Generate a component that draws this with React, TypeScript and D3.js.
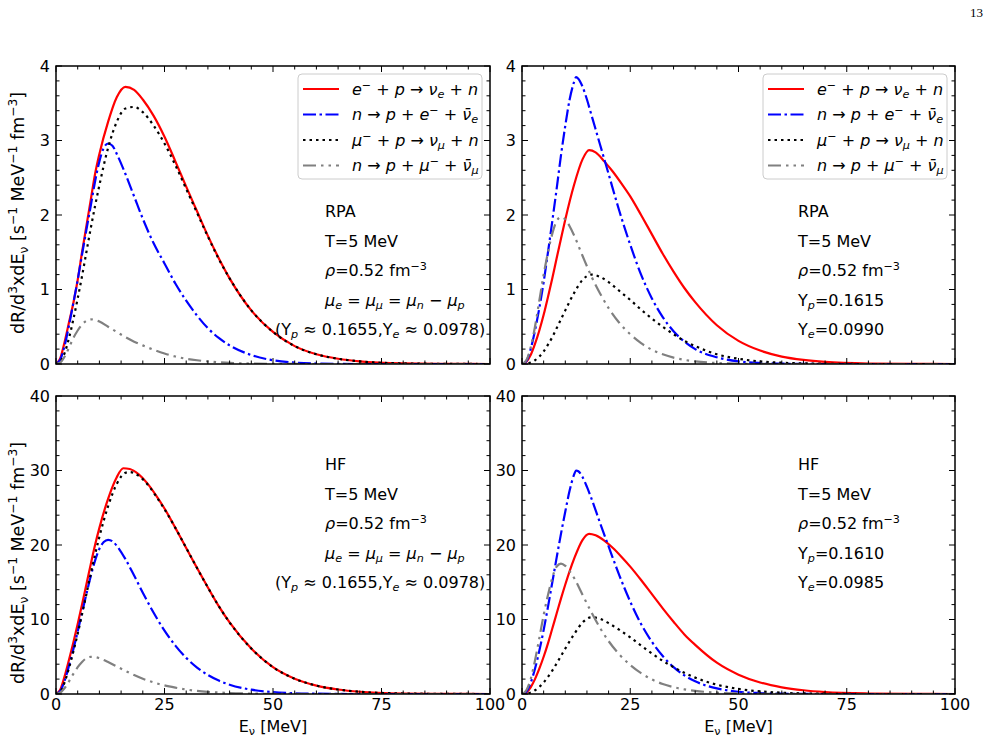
import React from 'react';
import * as d3 from 'd3';

type Pt = [number, number];
type Seg = { t: string; i?: boolean; sup?: boolean; sub?: boolean };

// tick labels
const xTicks = [0, 25, 50, 75, 100];
const yTicksRpa = [0, 1, 2, 3, 4];
const yTicksHf = [0, 10, 20, 30, 40];

// RPA, mu_e = mu_mu (top left)
const rpaEqECap: Pt[] = [[0,0],[1,0.08],[2,0.3],[3,0.56],[4,0.82],[5,1.13],[6,1.5],[7,1.85],[8,2.2],[9,2.55],[10,2.82],[12,3.25],[14,3.58],[16,3.72],[18,3.68],[20,3.55],[22.5,3.33],[25,3.05],[27.5,2.72],[30,2.38],[32.5,2.05],[35,1.72],[37.5,1.42],[40,1.15],[45,0.72],[50,0.43],[55,0.24],[60,0.13],[65,0.07],[70,0.035],[80,0.008],[90,0.002],[100,0]];
const rpaEqEDec: Pt[] = [[0,0],[1,0.06],[2,0.25],[3,0.52],[4,0.82],[5,1.13],[6,1.47],[7,1.8],[8,2.12],[9,2.45],[10,2.72],[11,2.9],[12,2.96],[13,2.93],[14,2.82],[16,2.55],[18,2.25],[20,1.95],[22.5,1.62],[25,1.35],[27.5,1.08],[30,0.85],[32.5,0.65],[35,0.48],[37.5,0.35],[40,0.25],[45,0.12],[50,0.05],[55,0.02],[60,0.007],[70,0],[100,0]];
const rpaEqMuCap: Pt[] = [[0,0],[1,0.03],[2,0.15],[3,0.35],[4,0.6],[5,0.88],[6,1.18],[7,1.5],[8,1.82],[9,2.12],[10,2.4],[12,2.9],[14,3.25],[16,3.43],[18,3.45],[20,3.38],[22.5,3.2],[25,2.96],[27.5,2.67],[30,2.35],[32.5,2.03],[35,1.71],[37.5,1.41],[40,1.15],[45,0.72],[50,0.43],[55,0.24],[60,0.13],[65,0.07],[70,0.035],[80,0.008],[90,0.002],[100,0]];
const rpaEqMuDec: Pt[] = [[0,0],[1,0.02],[2,0.1],[3,0.22],[4,0.35],[5,0.45],[6,0.53],[7,0.58],[8,0.6],[9,0.59],[10,0.57],[12,0.5],[14,0.43],[16,0.36],[18,0.3],[20,0.25],[22.5,0.19],[25,0.14],[27.5,0.1],[30,0.07],[32.5,0.05],[35,0.035],[40,0.015],[45,0.006],[50,0.002],[60,0],[100,0]];

// RPA, Yp=0.1615 (top right)
const rpaECap: Pt[] = [[0,0],[1,0.03],[2,0.12],[3,0.27],[4,0.45],[5,0.66],[6,0.9],[7,1.15],[8,1.42],[9,1.68],[10,1.94],[12,2.4],[14,2.75],[15.5,2.87],[17,2.84],[19,2.72],[21,2.58],[23,2.42],[25,2.25],[27.5,2.0],[30,1.74],[32.5,1.48],[35,1.24],[37.5,1.02],[40,0.83],[45,0.52],[50,0.31],[55,0.18],[60,0.1],[65,0.055],[70,0.028],[80,0.007],[90,0.002],[100,0]];
const rpaEDec: Pt[] = [[0,0],[1,0.04],[2,0.2],[3,0.45],[4,0.75],[5,1.1],[6,1.5],[7,1.92],[8,2.35],[9,2.8],[10,3.2],[11,3.55],[12,3.78],[12.5,3.85],[13,3.83],[14,3.72],[15,3.55],[16,3.35],[18,2.95],[20,2.55],[22.5,2.05],[25,1.6],[27.5,1.2],[30,0.88],[32.5,0.63],[35,0.44],[37.5,0.3],[40,0.2],[45,0.09],[50,0.035],[55,0.013],[60,0.005],[70,0],[100,0]];
const rpaMuCap: Pt[] = [[0,0],[1,0.005],[2,0.02],[3,0.05],[4,0.1],[5,0.17],[6,0.26],[7,0.36],[8,0.48],[9,0.6],[10,0.72],[12,0.95],[14,1.13],[15,1.18],[16,1.2],[18,1.17],[20,1.1],[22.5,0.98],[25,0.86],[27.5,0.73],[30,0.61],[32.5,0.5],[35,0.4],[37.5,0.31],[40,0.24],[45,0.13],[50,0.07],[55,0.035],[60,0.017],[70,0.004],[80,0],[100,0]];
const rpaMuDec: Pt[] = [[0,0],[1,0.05],[2,0.22],[3,0.5],[4,0.85],[5,1.2],[6,1.5],[7,1.75],[8,1.92],[9,1.97],[10,1.94],[11,1.85],[12,1.73],[14,1.45],[16,1.18],[18,0.95],[20,0.75],[22.5,0.55],[25,0.4],[27.5,0.28],[30,0.19],[32.5,0.13],[35,0.085],[37.5,0.055],[40,0.035],[45,0.013],[50,0.005],[60,0],[100,0]];

// HF, mu_e = mu_mu (bottom left)
const hfEqECap: Pt[] = [[0,0],[1,0.6],[2,2.4],[3,4.6],[4,6.9],[5,9.4],[6,12],[7,14.7],[8,17.4],[9,20],[10,22.3],[12,26.2],[14,29.1],[15.5,30.3],[17,30.2],[19,29.5],[21,28.3],[23,26.7],[25,24.9],[27.5,22.3],[30,19.6],[32.5,16.9],[35,14.3],[37.5,11.8],[40,9.6],[45,6.1],[50,3.6],[55,2.05],[60,1.12],[65,0.6],[70,0.3],[80,0.07],[90,0.015],[100,0]];
const hfEqEDec: Pt[] = [[0,0],[1,0.4],[2,1.8],[3,3.8],[4,6],[5,8.4],[6,10.9],[7,13.4],[8,15.8],[9,17.9],[10,19.5],[11,20.4],[12,20.7],[13,20.5],[14,19.9],[16,18.1],[18,15.9],[20,13.6],[22.5,10.9],[25,8.5],[27.5,6.5],[30,4.85],[32.5,3.55],[35,2.55],[37.5,1.8],[40,1.25],[45,0.58],[50,0.25],[55,0.1],[60,0.04],[70,0],[100,0]];
const hfEqMuCap: Pt[] = [[0,0],[1,0.3],[2,1.6],[3,3.5],[4,5.7],[5,8.1],[6,10.7],[7,13.4],[8,16.1],[9,18.7],[10,21.1],[12,25.2],[14,28.2],[16,29.7],[17,29.8],[19,29.3],[21,28.2],[23,26.6],[25,24.8],[27.5,22.3],[30,19.6],[32.5,16.9],[35,14.3],[37.5,11.8],[40,9.6],[45,6.1],[50,3.6],[55,2.05],[60,1.12],[65,0.6],[70,0.3],[80,0.07],[90,0.015],[100,0]];
const hfEqMuDec: Pt[] = [[0,0],[1,0.2],[2,0.8],[3,1.7],[4,2.7],[5,3.6],[6,4.3],[7,4.8],[8,4.98],[9,4.95],[10,4.8],[12,4.3],[14,3.7],[16,3.1],[18,2.55],[20,2.05],[22.5,1.55],[25,1.15],[27.5,0.85],[30,0.6],[32.5,0.42],[35,0.29],[40,0.13],[45,0.055],[50,0.02],[60,0],[100,0]];

// HF, Yp=0.1610 (bottom right)
const hfECap: Pt[] = [[0,0],[1,0.2],[2,0.9],[3,2],[4,3.4],[5,5],[6,6.8],[7,8.8],[8,10.8],[9,12.8],[10,14.7],[12,18.1],[14,20.7],[15.5,21.5],[17,21.3],[19,20.6],[21,19.6],[23,18.4],[25,17.1],[27.5,15.3],[30,13.4],[32.5,11.5],[35,9.7],[37.5,8.0],[40,6.6],[45,4.2],[50,2.6],[55,1.55],[60,0.9],[65,0.5],[70,0.26],[80,0.07],[90,0.017],[100,0]];
const hfEDec: Pt[] = [[0,0],[1,0.3],[2,1.5],[3,3.4],[4,5.8],[5,8.6],[6,11.7],[7,15],[8,18.3],[9,21.5],[10,24.5],[11,27.3],[12,29.4],[12.5,30],[13,29.9],[14,29.1],[15,27.8],[16,26.3],[18,23],[20,19.8],[22.5,15.9],[25,12.4],[27.5,9.4],[30,7.0],[32.5,5.1],[35,3.6],[37.5,2.5],[40,1.7],[45,0.75],[50,0.3],[55,0.12],[60,0.045],[70,0],[100,0]];
const hfMuCap: Pt[] = [[0,0],[1,0.04],[2,0.2],[3,0.5],[4,0.95],[5,1.55],[6,2.3],[7,3.15],[8,4.1],[9,5.1],[10,6.1],[12,8.0],[14,9.6],[15,10.1],[16,10.3],[18,10.1],[20,9.5],[22.5,8.6],[25,7.6],[27.5,6.5],[30,5.45],[32.5,4.45],[35,3.6],[37.5,2.85],[40,2.2],[45,1.25],[50,0.68],[55,0.35],[60,0.18],[70,0.04],[80,0],[100,0]];
const hfMuDec: Pt[] = [[0,0],[1,0.5],[2,2],[3,4.5],[4,7.5],[5,10.6],[6,13.3],[7,15.6],[8,17.1],[9,17.5],[10,17.2],[11,16.5],[12,15.6],[14,13.3],[16,11],[18,8.9],[20,7.1],[22.5,5.3],[25,3.9],[27.5,2.8],[30,1.95],[32.5,1.35],[35,0.92],[37.5,0.62],[40,0.42],[45,0.18],[50,0.07],[60,0.01],[70,0],[100,0]];

const legendLabels: Seg[][] = [
  [{ t: 'e', i: true }, { t: '−', sup: true }, { t: ' + ' }, { t: 'p', i: true }, { t: ' → ' }, { t: 'ν', i: true }, { t: 'e', i: true, sub: true }, { t: ' + ' }, { t: 'n', i: true }],
  [{ t: 'n', i: true }, { t: ' → ' }, { t: 'p', i: true }, { t: ' + ' }, { t: 'e', i: true }, { t: '−', sup: true }, { t: ' + ' }, { t: 'ν\u0304', i: true }, { t: 'e', i: true, sub: true }],
  [{ t: 'μ', i: true }, { t: '−', sup: true }, { t: ' + ' }, { t: 'p', i: true }, { t: ' → ' }, { t: 'ν', i: true }, { t: 'μ', i: true, sub: true }, { t: ' + ' }, { t: 'n', i: true }],
  [{ t: 'n', i: true }, { t: ' → ' }, { t: 'p', i: true }, { t: ' + ' }, { t: 'μ', i: true }, { t: '−', sup: true }, { t: ' + ' }, { t: 'ν\u0304', i: true }, { t: 'μ', i: true, sub: true }],
];

const yLabel: Seg[] = [{ t: 'dR/d' }, { t: '3', sup: true }, { t: 'xdE' }, { t: 'ν', sub: true }, { t: ' [s' }, { t: '−1', sup: true }, { t: ' MeV' }, { t: '−1', sup: true }, { t: ' fm' }, { t: '−3', sup: true }, { t: ']' }];
const xLabel: Seg[] = [{ t: 'E' }, { t: 'ν', sub: true }, { t: ' [MeV]' }];

const rhoLine: Seg[] = [{ t: 'ρ', i: true }, { t: '=0.52 fm' }, { t: '−3', sup: true }];
const tLine: Seg[] = [{ t: 'T=5 MeV' }];
const muLine: Seg[] = [{ t: 'μ', i: true }, { t: 'e', i: true, sub: true }, { t: ' = ' }, { t: 'μ', i: true }, { t: 'μ', i: true, sub: true }, { t: ' = ' }, { t: 'μ', i: true }, { t: 'n', i: true, sub: true }, { t: ' − ' }, { t: 'μ', i: true }, { t: 'p', i: true, sub: true }];
const yEqLine: Seg[] = [{ t: '(Y' }, { t: 'p', i: true, sub: true }, { t: ' ≈ 0.1655,Y' }, { t: 'e', i: true, sub: true }, { t: ' ≈ 0.0978)' }];
const ypRpa: Seg[] = [{ t: 'Y' }, { t: 'p', i: true, sub: true }, { t: '=0.1615' }];
const yeRpa: Seg[] = [{ t: 'Y' }, { t: 'e', i: true, sub: true }, { t: '=0.0990' }];
const ypHf: Seg[] = [{ t: 'Y' }, { t: 'p', i: true, sub: true }, { t: '=0.1610' }];
const yeHf: Seg[] = [{ t: 'Y' }, { t: 'e', i: true, sub: true }, { t: '=0.0985' }];

const styles = [
  { color: '#ff0000', dash: '' },
  { color: '#0000ff', dash: '13,3.5,2.5,3.5' },
  { color: '#000000', dash: '2.5,4' },
  { color: '#808080', dash: '13,5,2.5,5,2.5,5' },
];

const FONT = 'DejaVu Sans';

const Rich = ({ segs, x, y, size, anchor = 'start', transform }: { segs: Seg[]; x: number; y: number; size: number; anchor?: string; transform?: string }) => (
  <text x={x} y={y} fontSize={size} textAnchor={anchor} transform={transform} fontFamily={FONT}>
    {segs.map((s, k) => (
      <tspan
        key={k}
        fontStyle={s.i ? 'italic' : 'normal'}
        fontSize={s.sup || s.sub ? size * 0.7 : size}
        baselineShift={s.sup ? size * 0.4 : s.sub ? -size * 0.2 : undefined}
      >
        {s.t}
      </tspan>
    ))}
  </text>
);

type PanelProps = {
  x0: number; y0: number; w: number; h: number;
  yMax: number; yTicks: number[];
  series: Pt[][];
  legend?: boolean; legendX?: number;
  notes: { segs: Seg[]; dx: number }[]; notesTop: number;
  xLabels?: boolean; yLabelY?: number;
};

const Panel = (p: PanelProps) => {
  const x = d3.scaleLinear().domain([0, 100]).range([0, p.w]);
  const y = d3.scaleLinear().domain([0, p.yMax]).range([p.h, 0]);
  const line = d3.line<Pt>().x(d => x(d[0])).y(d => y(d[1])).curve(d3.curveMonotoneX);
  const xMinor = d3.range(0, 100.001, 5).filter(v => v % 25 !== 0);
  const yStep = p.yTicks[1] - p.yTicks[0];
  const yMinor = d3.range(0, p.yMax + 1e-9, yStep / 5).filter(v => Math.abs(v / yStep - Math.round(v / yStep)) > 1e-6);
  const clipId = `clip-${p.x0}-${p.y0}`;
  const maj = 6, mnr = 3.5;
  return (
    <g transform={`translate(${p.x0},${p.y0})`}>
      <defs>
        <clipPath id={clipId}><rect width={p.w} height={p.h} /></clipPath>
      </defs>
      <g clipPath={`url(#${clipId})`}>
        {p.series.map((s, k) => (
          <path key={k} d={line(s) || ''} fill="none" stroke={styles[k].color} strokeWidth={2.2} strokeDasharray={styles[k].dash || undefined} />
        ))}
      </g>
      {/* ticks, inward on every side */}
      <g stroke="#000" strokeWidth={1}>
        {xTicks.map(v => (
          <g key={`xm${v}`}>
            <line x1={x(v)} x2={x(v)} y1={p.h} y2={p.h - maj} />
            <line x1={x(v)} x2={x(v)} y1={0} y2={maj} />
          </g>
        ))}
        {xMinor.map(v => (
          <g key={`xn${v}`}>
            <line x1={x(v)} x2={x(v)} y1={p.h} y2={p.h - mnr} />
            <line x1={x(v)} x2={x(v)} y1={0} y2={mnr} />
          </g>
        ))}
        {p.yTicks.map(v => (
          <g key={`ym${v}`}>
            <line x1={0} x2={maj} y1={y(v)} y2={y(v)} />
            <line x1={p.w} x2={p.w - maj} y1={y(v)} y2={y(v)} />
          </g>
        ))}
        {yMinor.map(v => (
          <g key={`yn${v}`}>
            <line x1={0} x2={mnr} y1={y(v)} y2={y(v)} />
            <line x1={p.w} x2={p.w - mnr} y1={y(v)} y2={y(v)} />
          </g>
        ))}
      </g>
      <rect width={p.w} height={p.h} fill="none" stroke="#000" strokeWidth={1.5} />
      {p.yTicks.map(v => (
        <text key={`yl${v}`} x={-6} y={y(v)} dy="0.36em" textAnchor="end" fontSize={16} fontFamily={FONT}>{v}</text>
      ))}
      {p.xLabels && xTicks.map(v => (
        <text key={`xl${v}`} x={x(v)} y={p.h + 4} dy="0.76em" textAnchor="middle" fontSize={16} fontFamily={FONT}>{v}</text>
      ))}
      {p.xLabels && <Rich segs={xLabel} x={p.w / 2} y={p.h + 38} size={16} anchor="middle" />}
      {p.yLabelY !== undefined && (
        <Rich segs={yLabel} x={0} y={0} size={17.5} anchor="middle"
          transform={`translate(${-p.x0 + 24},${p.yLabelY - p.y0}) rotate(-90)`} />
      )}
      {p.notes.map((n, k) => (
        <Rich key={`n${k}`} segs={n.segs} x={n.dx} y={p.notesTop + k * 29.6} size={16} />
      ))}
      {p.legend && (
        <g transform={`translate(${p.legendX},8)`}>
          <rect width={184} height={105} rx={4} fill="#fff" fillOpacity={0.8} stroke="#cccccc" strokeWidth={1} />
          {legendLabels.map((lab, k) => (
            <g key={`lg${k}`} transform={`translate(0,${15 + k * 25.5})`}>
              <line x1={5} x2={41} y1={0} y2={0} stroke={styles[k].color} strokeWidth={2.2} strokeDasharray={styles[k].dash || undefined} />
              <Rich segs={lab} x={54} y={5.5} size={16} />
            </g>
          ))}
        </g>
      )}
    </g>
  );
};

const App = () => {
  const L = 56, R = 522, W = 434, T = 66, B = 396, H = 298;
  return (
    <div style={{ position: 'absolute', left: 0, top: 0 }}>
      <svg width={1000} height={742} style={{ display: 'block', background: '#fff' }}>
        <text x={983} y={17} textAnchor="end" fontSize={13} fontFamily="Liberation Serif">13</text>
        <Panel x0={L} y0={T} w={W} h={H} yMax={4} yTicks={yTicksRpa}
          series={[rpaEqECap, rpaEqEDec, rpaEqMuCap, rpaEqMuDec]} legend legendX={242}
          notes={[{ segs: [{ t: 'RPA' }], dx: 269 }, { segs: tLine, dx: 269 }, { segs: rhoLine, dx: 269 }, { segs: muLine, dx: 269 }, { segs: yEqLine, dx: 219 }]}
          notesTop={151} yLabelY={213} />
        <Panel x0={R} y0={T} w={W - 1} h={H} yMax={4} yTicks={yTicksRpa}
          series={[rpaECap, rpaEDec, rpaMuCap, rpaMuDec]} legend legendX={241}
          notes={[{ segs: [{ t: 'RPA' }], dx: 276 }, { segs: tLine, dx: 276 }, { segs: rhoLine, dx: 276 }, { segs: ypRpa, dx: 276 }, { segs: yeRpa, dx: 276 }]}
          notesTop={151} />
        <Panel x0={L} y0={B} w={W} h={H} yMax={40} yTicks={yTicksHf}
          series={[hfEqECap, hfEqEDec, hfEqMuCap, hfEqMuDec]}
          notes={[{ segs: [{ t: 'HF' }], dx: 269 }, { segs: tLine, dx: 269 }, { segs: rhoLine, dx: 269 }, { segs: muLine, dx: 269 }, { segs: yEqLine, dx: 219 }]}
          notesTop={74} xLabels yLabelY={563} />
        <Panel x0={R} y0={B} w={W - 1} h={H} yMax={40} yTicks={yTicksHf}
          series={[hfECap, hfEDec, hfMuCap, hfMuDec]}
          notes={[{ segs: [{ t: 'HF' }], dx: 276 }, { segs: tLine, dx: 276 }, { segs: rhoLine, dx: 276 }, { segs: ypHf, dx: 276 }, { segs: yeHf, dx: 276 }]}
          notesTop={74} xLabels />
      </svg>
    </div>
  );
};

export default App;
